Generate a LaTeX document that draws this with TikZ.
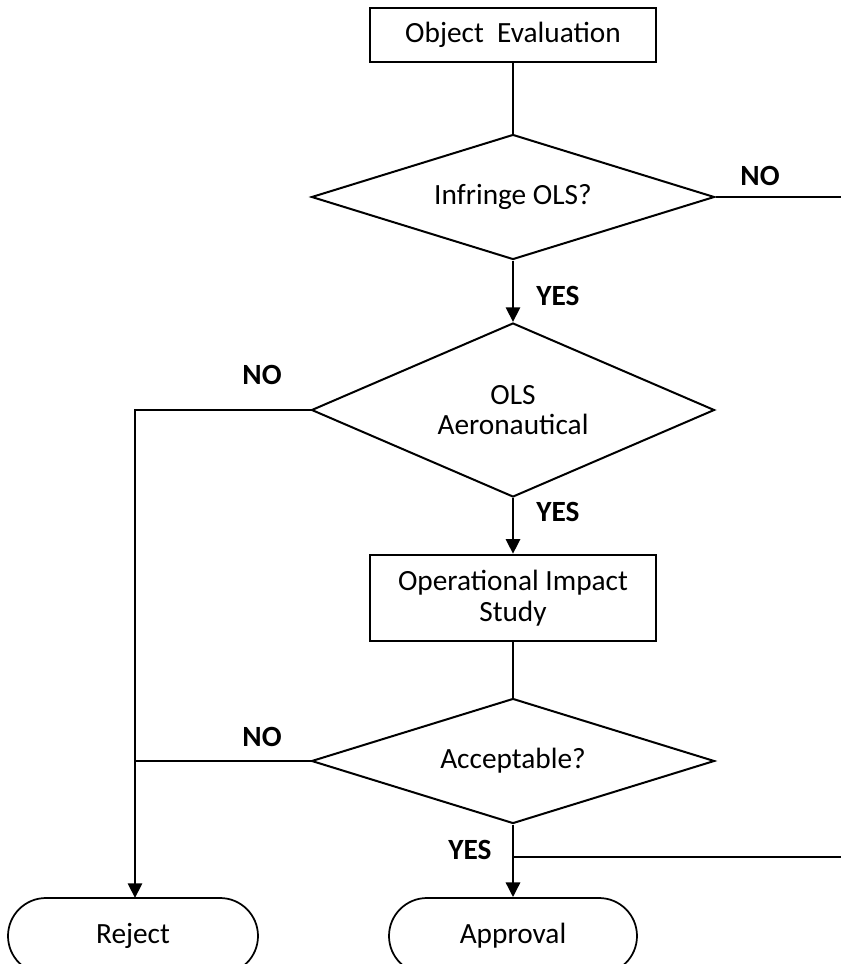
\documentclass[tikz,border=0pt]{standalone}
\usepackage{fontspec}
\setmainfont{Carlito}
\usetikzlibrary{shapes.geometric,shapes.misc,arrows.meta}
\begin{document}
\begin{tikzpicture}[x=0.75pt,y=-0.75pt,
  every node/.style={font=\fontsize{22}{23}\selectfont},
  procbox/.style={draw,line width=1.3pt,rectangle,inner sep=0pt,align=center},
  decision/.style={draw,line width=1.5pt,diamond,inner sep=0pt,minimum width=302.25pt},
  dtext/.style={label={[align=center,inner sep=0pt]center:#1}},
  terminal/.style={draw,line width=1.3pt,rounded rectangle,inner sep=0pt,minimum height=57pt},
  conn/.style={line width=2.2pt},
  arr/.style={line width=2.2pt,-{Triangle[width=10.5pt,length=11pt]}},
  lbl/.style={font=\fontsize{22}{23}\selectfont\bfseries}]
\useasboundingbox (0,0) rectangle (841,964);
\clip (0,0) rectangle (841,964);
\node[procbox,minimum width=214.5pt,minimum height=40.5pt] (oe) at (513,35) {Object\ \ Evaluation};
\node[decision,minimum height=93.75pt,dtext={Infringe OLS?}] (d1) at (513,197) {};
\node[decision,minimum height=130.5pt,dtext={OLS\\Aeronautical}] (d2) at (513,410) {};
\node[procbox,minimum width=215pt,minimum height=65pt] (ois) at (513,598) {Operational Impact\\Study};
\node[decision,minimum height=93.75pt,dtext={Acceptable?}] (d3) at (513,761) {};
\node[terminal,minimum width=187.5pt] (rej) at (133,936) {Reject};
\node[terminal,minimum width=186pt] (app) at (513,936) {Approval};

\coordinate (r1) at (841,197);
\coordinate (r3) at (841,857);
\coordinate (j3) at (513,857);
\coordinate (jl) at (135,761);
\coordinate (rejtop) at (135,898);

\draw[conn] (oe.south) -- (d1.north);
\draw[conn] (d1.east) -- (r1);
\draw[arr] (d1.south) -- (d2.north);
\draw[arr] (d2.west) -| (rejtop);
\draw[arr] (d2.south) -- (ois.north);
\draw[conn] (ois.south) -- (d3.north);
\draw[conn] (d3.west) -- (jl);
\draw[arr] (d3.south) -- (app.north);
\draw[conn] (r3) -- (j3);

\node[lbl] (n1) at (760,176) {NO};
\node[lbl] (y1) at (558,296) {YES};
\node[lbl] (n2) at (262,375) {NO};
\node[lbl] (y2) at (558,512) {YES};
\node[lbl] (n3) at (262,737) {NO};
\node[lbl] (y3) at (470,850) {YES};
\end{tikzpicture}
\end{document}
